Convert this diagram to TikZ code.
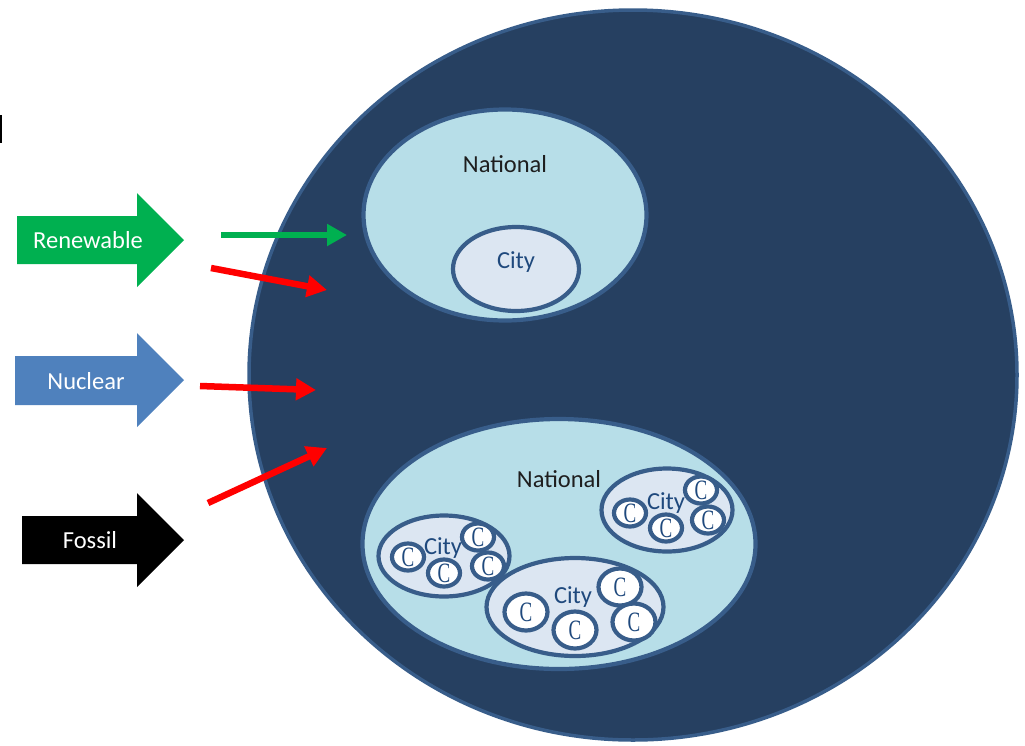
\documentclass[tikz,border=0pt]{standalone}
\usepackage{fontspec}
\setmainfont{Carlito}
\newfontfamily\cfontfam{Liberation Serif}
\usetikzlibrary{shapes.geometric,arrows.meta}
\definecolor{navy}{RGB}{38,64,97}
\definecolor{edge}{RGB}{56,93,138}
\definecolor{natfill}{RGB}{183,222,232}
\definecolor{cityfill}{RGB}{220,230,242}
\definecolor{citytext}{RGB}{31,73,125}
\definecolor{rgreen}{RGB}{0,176,80}
\definecolor{nblue}{RGB}{79,129,189}
\definecolor{redarrow}{RGB}{255,0,0}
\definecolor{txtdark}{RGB}{30,30,30}
\tikzset{
  ell/.style={ellipse, draw=edge, inner sep=0pt, line width=4.2pt},
  world/.style={ell, fill=navy, line width=3.5pt},
  nation/.style={ell, fill=natfill},
  citybox/.style={ell, fill=cityfill},
  cc/.style={ell, fill=white, minimum width=32pt, minimum height=27pt, text=citytext,
    font=\cfontfam\fontsize{28}{28}\selectfont},
  ccbig/.style={cc, minimum width=43pt, minimum height=37pt},
  lbl/.style={font=\fontsize{24.5}{24.5}\selectfont, inner sep=0pt},
  natlbl/.style={lbl, text=txtdark},
  citylbl/.style={lbl, text=citytext},
  blocklbl/.style={lbl, text=white},
  thin/.style={line width=6.5pt, -{Triangle[length=20pt,width=21pt]}},
}
\newcommand{\Cl}{\scalebox{0.68}[1]{C}}
\begin{document}
\begin{tikzpicture}[x=1pt,y=-1pt]
\useasboundingbox (0,0) rectangle (1025,745);
% stray mark at top-left
\fill[black] (0,115) rectangle (2,143);
% big circle
\node[world, minimum width=768pt, minimum height=730pt] (W) at (633,375) {};
% upper national
\node[nation, minimum width=283pt, minimum height=211pt] (N1) at (505,215) {};
\node[natlbl] (N1t) at (505,164) {National};
\node[citybox, minimum width=126pt, minimum height=84pt] (C1) at (516,269) {};
\node[citylbl] (C1t) at (516,262) {City};
% lower national
\node[nation, minimum width=393pt, minimum height=250pt] (N2) at (559,544) {};
\node[natlbl] (N2t) at (559,479) {National};
% city A
\node[citybox, minimum width=131pt, minimum height=81pt] (CA) at (444,556) {};
\node[cc] (a1) at (408,557) {\Cl};
\node[cc] (a2) at (478,537) {\Cl};
\node[cc] (a3) at (444,573) {\Cl};
\node[cc] (a4) at (488,566) {\Cl};
\node[citylbl] (CAt) at (443,548) {City};
% city B
\node[citybox, minimum width=131pt, minimum height=83pt] (CB) at (667,510) {};
\node[cc] (b1) at (630,513) {\Cl};
\node[cc] (b2) at (701,490) {\Cl};
\node[cc] (b3) at (666,528) {\Cl};
\node[cc] (b4) at (708,520) {\Cl};
\node[citylbl] (CBt) at (666,503) {City};
% city C
\node[citybox, minimum width=177pt, minimum height=98pt] (CC) at (575,607) {};
\node[citylbl] (CCt) at (573,597) {City};
\node[ccbig] (c1) at (526,612) {\Cl};
\node[ccbig] (c2) at (575,630) {\Cl};
\node[ccbig] (c3) at (620,587) {\Cl};
\node[ccbig] (c4) at (634,622) {\Cl};
% block arrows
\fill[rgreen] (17,216) -- (137,216) -- (137,193) -- (184,240) -- (137,287) -- (137,264) -- (17,264) -- cycle;
\node[blocklbl] (ren) at (88,240) {Renewable};
\fill[nblue] (15,356) -- (137,356) -- (137,333) -- (184,380) -- (137,427) -- (137,405) -- (15,405) -- cycle;
\node[blocklbl] (nuc) at (86,381) {Nuclear};
\fill[black] (22,516) -- (137,516) -- (137,493) -- (184,540) -- (137,587) -- (137,564) -- (22,564) -- cycle;
\node[blocklbl] (fos) at (90,540) {Fossil};
% thin arrows
\coordinate (g0) at (221,235); \coordinate (g1) at (347,235);
\coordinate (r10) at (211,268); \coordinate (r11) at (327,290);
\coordinate (r20) at (200,386); \coordinate (r21) at (316,390);
\coordinate (r30) at (208,503); \coordinate (r31) at (327,448);
\draw[thin, rgreen, line width=5.5pt] (g0) -- (g1);
\draw[thin, redarrow] (r10) -- (r11);
\draw[thin, redarrow] (r20) -- (r21);
\draw[thin, redarrow] (r30) -- (r31);
\end{tikzpicture}
\end{document}
